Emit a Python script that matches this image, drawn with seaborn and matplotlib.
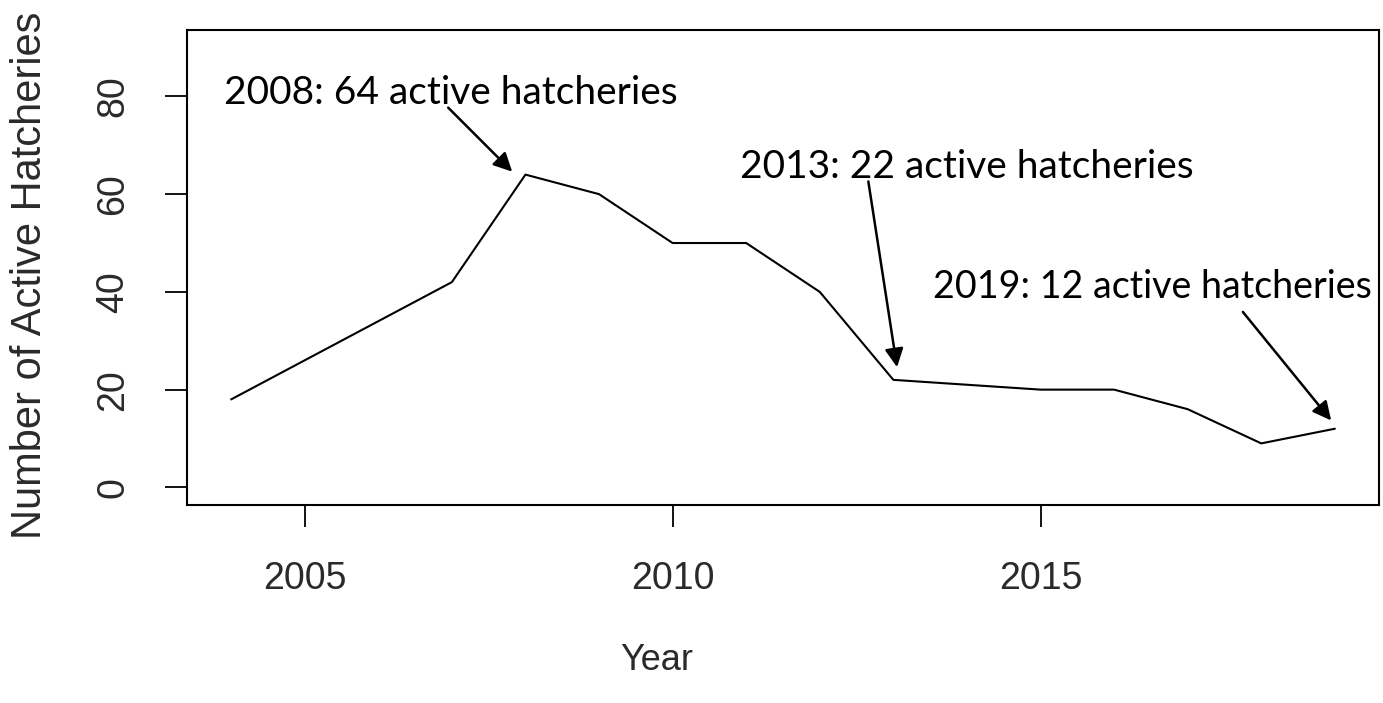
import numpy as np
import pandas as pd
import matplotlib
matplotlib.use("Agg")
import matplotlib.pyplot as plt
import seaborn as sns

# values
years = [2004, 2007, 2008, 2009, 2010, 2011, 2012, 2013, 2014, 2015, 2016, 2017, 2018, 2019]
hatcheries = [18, 42, 64, 60, 50, 50, 40, 22, 21, 20, 20, 16, 9, 12]

notes = ["2008: 64 active hatcheries", "2013: 22 active hatcheries", "2019: 12 active hatcheries"]
note_years = [2008, 2013, 2019]

x_ticks = [2005, 2010, 2015]
y_ticks = [0, 20, 40, 60, 80]

df = pd.DataFrame({"Year": years, "Hatcheries": hatcheries})

sns.set_style("white")
plt.rcParams["font.family"] = ["Liberation Sans", "DejaVu Sans"]

fig = plt.figure(figsize=(13.83, 7.03), dpi=100)
ax = fig.add_axes([0.1352, 0.2817, 0.8619, 0.6757])

sns.lineplot(data=df, x="Year", y="Hatcheries", color="black", linewidth=1.5, ax=ax)

ax.set_xlim(2003.4, 2019.6)
ax.set_ylim(-3.6, 93.6)
ax.set_xticks(x_ticks)
ax.set_yticks(y_ticks)
ax.set_xticklabels([str(t) for t in x_ticks])
ax.set_yticklabels([str(t) for t in y_ticks], rotation=90, va="center")

for s in ax.spines.values():
    s.set_color("black")
    s.set_linewidth(1.5)

ax.tick_params(axis="both", direction="out", length=16, width=1.3, color="black",
               labelsize=27, labelcolor="#2a2a2a", pad=24, left=True, bottom=True)

ax.set_xlabel("Year", fontsize=26, color="#2a2a2a")
ax.set_ylabel("Number of Active Hatcheries", fontsize=30, color="#2a2a2a")
ax.xaxis.set_label_coords(0.394, -0.29)
ax.yaxis.set_label_coords(-0.115, 0.484)

# annotation layout (data coords): text anchor, arrow start, arrow tip offsets
text_pos = [(2003.90, 80.8), (2010.92, 65.6), (2013.54, 41.0)]
text_size = [28, 28, 27.1]
arrow_start = [(2006.95, 77.7), (2012.66, 62.6), (2017.75, 35.9)]
tip_offset = [(-0.18, 0.6), (0.05, 2.6), (-0.05, 1.7)]

for note, yr, tp, fs, st, off in zip(notes, note_years, text_pos, text_size, arrow_start, tip_offset):
    val = hatcheries[years.index(yr)]
    ax.text(tp[0], tp[1], note, fontsize=fs, family=["Lato", "DejaVu Sans"],
            color="black", ha="left", va="center", clip_on=False)
    ax.annotate("", xy=(yr + off[0], val + off[1]), xytext=st,
                arrowprops=dict(arrowstyle="-|>", color="black", lw=1.8,
                                mutation_scale=28, shrinkA=0, shrinkB=0),
                annotation_clip=False)

fig.savefig("out.png", dpi=100)
